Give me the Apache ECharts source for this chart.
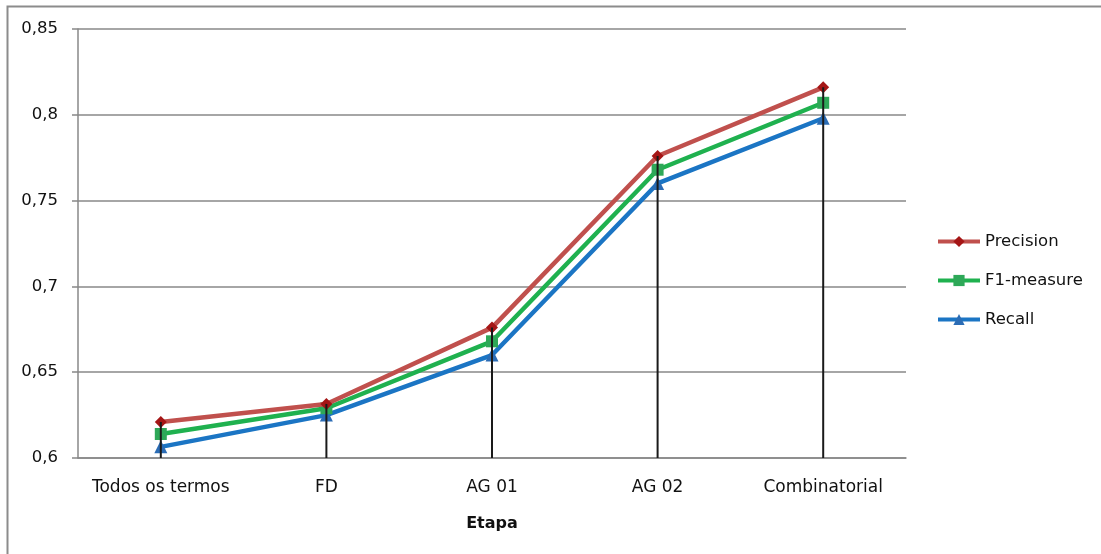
<!DOCTYPE html>
<html>
<head>
<meta charset="utf-8">
<title>Etapa</title>
<script src="https://cdn.jsdelivr.net/npm/echarts@6/dist/echarts.min.js"></script>
<style>
  html, body { margin: 0; padding: 0; background: #ffffff; }
  #chart { width: 1101px; height: 554px; }
</style>
</head>
<body>
<div id="chart"></div>
<script>
// Stages on the x axis
const categories = ['Todos os termos', 'FD', 'AG 01', 'AG 02', 'Combinatorial'];

// Scores for each stage
const precision = [0.621, 0.6315, 0.676, 0.776, 0.816];
const f1measure = [0.614, 0.629, 0.668, 0.768, 0.807];
const recall    = [0.6065, 0.625, 0.660, 0.760, 0.798];

// Value axis tick labels (decimal comma)
const yTickLabels = ['0,6', '0,65', '0,7', '0,75', '0,8', '0,85'];
const yMin = 0.6, yMax = 0.85, yStep = 0.05;

const font = '"DejaVu Sans", "Open Sans", sans-serif';

const chart = echarts.init(document.getElementById('chart'), null, { renderer: 'canvas' });

chart.setOption({
  backgroundColor: '#ffffff',
  animation: false,
  graphic: [{
    type: 'rect',
    shape: { x: 7.5, y: 6.5, width: 1200, height: 700 },
    style: { fill: 'none', stroke: '#8c8c8c', lineWidth: 2 },
    silent: true,
    z: 0
  }],
  grid: { left: 78, right: 195, top: 29, bottom: 96, containLabel: false },
  legend: {
    orient: 'vertical',
    left: 936,
    top: 233,
    padding: 0,
    itemGap: 22,
    itemWidth: 42,
    itemHeight: 14,
    lineStyle: { width: 4 },
    textStyle: { fontFamily: font, fontSize: 16.5, color: '#111' },
    data: ['Precision', 'F1-measure', 'Recall']
  },
  xAxis: {
    type: 'category',
    data: categories,
    boundaryGap: true,
    name: 'Etapa',
    nameLocation: 'middle',
    nameGap: 58,
    nameTextStyle: { fontFamily: font, fontSize: 16, fontWeight: 'bold', color: '#111' },
    axisLine: { lineStyle: { color: '#888888', width: 1.5 } },
    axisTick: { show: false },
    axisLabel: { interval: 0, margin: 21, fontFamily: font, fontSize: 17, color: '#111' },
    splitLine: { show: false }
  },
  yAxis: {
    type: 'value',
    min: yMin,
    max: yMax,
    interval: yStep,
    axisLine: { show: true, lineStyle: { color: '#888888', width: 1.5 } },
    axisTick: { show: true, length: 6, lineStyle: { color: '#888888', width: 1.5 } },
    axisLabel: {
      margin: 20,
      fontFamily: font,
      fontSize: 16.5,
      color: '#111',
      formatter: function (v) {
        return yTickLabels[Math.round((v - yMin) / yStep)];
      }
    },
    splitLine: { show: true, lineStyle: { color: '#888888', width: 1.5 } }
  },
  series: [
    {
      name: 'Precision',
      type: 'line',
      data: precision,
      symbol: 'diamond',
      symbolSize: 12,
      lineStyle: { color: '#c0504d', width: 4.5 },
      itemStyle: { color: '#a51616', borderWidth: 0 },
      z: 4
    },
    {
      name: 'F1-measure',
      type: 'line',
      data: f1measure,
      symbol: 'rect',
      symbolSize: 12,
      lineStyle: { color: '#1fb14f', width: 4.5 },
      itemStyle: { color: '#2ea858', borderWidth: 0 },
      z: 3
    },
    {
      name: 'Recall',
      type: 'line',
      data: recall,
      symbol: 'triangle',
      symbolSize: 13,
      lineStyle: { color: '#1b75c4', width: 4.5 },
      itemStyle: { color: '#2b6cb5', borderWidth: 0 },
      z: 2
    },
    {
      // drop lines from the highest point down to the category axis
      name: 'drop',
      type: 'bar',
      data: precision,
      barWidth: 2,
      itemStyle: { color: '#1a1a1a' },
      silent: true,
      z: 5
    }
  ]
});
</script>
</body>
</html>
